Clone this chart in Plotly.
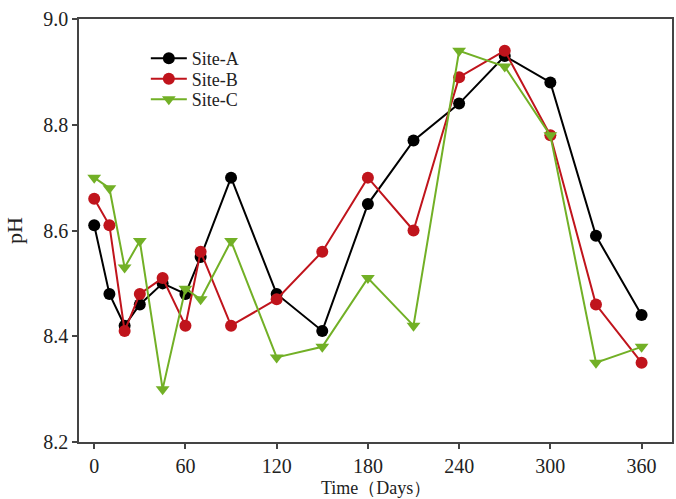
import plotly.graph_objects as go

days = [0, 10, 20, 30, 45, 60, 70, 90, 120, 150, 180, 210, 240, 270, 300, 330, 360]
site_a = [8.61, 8.48, 8.42, 8.46, 8.50, 8.48, 8.55, 8.70, 8.48, 8.41, 8.65, 8.77, 8.84, 8.93, 8.88, 8.59, 8.44]
site_b = [8.66, 8.61, 8.41, 8.48, 8.51, 8.42, 8.56, 8.42, 8.47, 8.56, 8.70, 8.60, 8.89, 8.94, 8.78, 8.46, 8.35]
site_c = [8.70, 8.68, 8.53, 8.58, 8.30, 8.49, 8.47, 8.58, 8.36, 8.38, 8.51, 8.42, 8.94, 8.91, 8.78, 8.35, 8.38]
x_ticks = [0, 60, 120, 180, 240, 300, 360]
y_ticks = [8.2, 8.4, 8.6, 8.8, 9.0]
x_title = "Time（Days）"
y_title = "pH"

FONT = "Liberation Serif"
TXT = "#222"
fig = go.Figure()
series = [
    ("Site-A", site_a, "#000000", "circle", "legend"),
    ("Site-B", site_b, "#c0141c", "circle", "legend2"),
    ("Site-C", site_c, "#72b026", "triangle-down", "legend3"),
]
for name, vals, col, sym, lg in series:
    fig.add_trace(go.Scatter(
        x=days, y=vals, name=name, mode="lines+markers",
        line=dict(color=col, width=2),
        marker=dict(color=col, size=12, symbol=sym),
        legend=lg,
    ))

axis_common = dict(showgrid=False, zeroline=False, showline=True, linecolor="#444",
                   linewidth=1.5, mirror=True, ticks="outside", ticklen=5, tickwidth=1.5,
                   tickcolor="#444", tickfont=dict(family=FONT, size=20, color=TXT),
                   automargin=False)
fig.update_xaxes(range=[-10, 380], tickvals=x_ticks, **axis_common)
fig.update_yaxes(range=[8.2, 9.0], tickvals=y_ticks, tickformat=".1f",
                 title=dict(text=y_title, font=dict(family=FONT, size=22, color=TXT)),
                 **axis_common)

fig.add_annotation(text=x_title, xref="paper", yref="paper", x=0.5, y=-0.1099,
                   xanchor="center", yanchor="middle", showarrow=False,
                   font=dict(family=FONT, size=18, color=TXT))

leg_common = dict(x=0.1127, xanchor="left", yanchor="middle", bgcolor="rgba(0,0,0,0)",
                  font=dict(family=FONT, size=18, color=TXT), itemwidth=36)
fig.update_layout(
    width=676, height=499,
    margin=dict(l=79, r=4, t=19, b=57),
    plot_bgcolor="white", paper_bgcolor="white",
    font=dict(family=FONT, size=20, color=TXT),
    legend=dict(y=0.9066, **leg_common),
    legend2=dict(y=0.8582, **leg_common),
    legend3=dict(y=0.8097, **leg_common),
    showlegend=True,
)
fig.write_html("out.html")
